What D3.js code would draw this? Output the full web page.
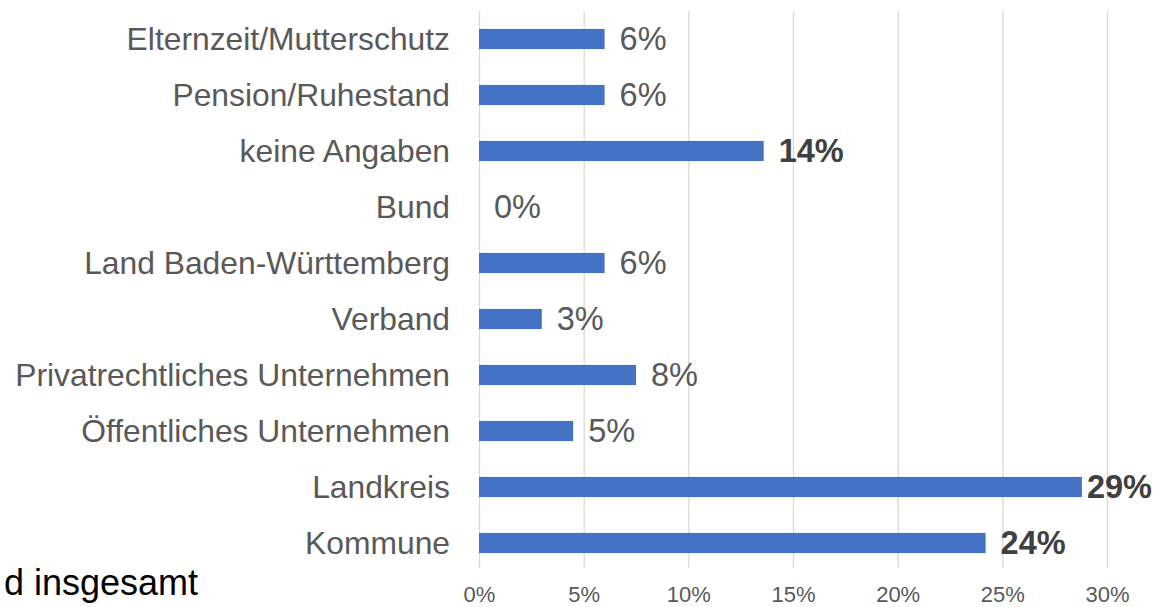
<!DOCTYPE html>
<html>

<head>
    <meta charset="utf-8">
    <style>
        body {
            margin: 0;
            background: #fff;
            font-family: 'Liberation Sans', Arial, sans-serif;
        }

        svg {
            display: block;
        }

        .x .domain {
            display: none;
        }

        .x .tick line {
            stroke: #d9d9d9;
            stroke-width: 1.3px;
        }

        .x .tick text {
            font-size: 22px;
            fill: #595959;
        }

        .cat {
            font-size: 31.8px;
            fill: #595959;
        }
    </style>
</head>

<body>
    <svg width="1156" height="607"></svg>
</body>

<script src="https://d3js.org/d3.v7.min.js"></script>

<script>
    // categories top to bottom
    let categories = [
        "Elternzeit/Mutterschutz",
        "Pension/Ruhestand",
        "keine Angaben",
        "Bund",
        "Land Baden-Württemberg",
        "Verband",
        "Privatrechtliches Unternehmen",
        "Öffentliches Unternehmen",
        "Landkreis",
        "Kommune"
    ]

    // share in percent
    let values = [6.0, 6.0, 13.6, 0, 6.0, 3.0, 7.5, 4.5, 28.8, 24.2]

    // the printed labels (rounded), bold ones flagged
    let valueLabels = ["6%", "6%", "14%", "0%", "6%", "3%", "8%", "5%", "29%", "24%"]
    let boldLabels = [false, false, true, false, false, false, false, false, true, true]

    let xTicks = [0, 5, 10, 15, 20, 25, 30]

    let data = categories.map((c, i) => ({
        cat: c,
        value: values[i],
        label: valueLabels[i],
        bold: boldLabels[i]
    }))

    let svg = d3.select("svg")
    let width = 1156

    let x = d3.scaleLinear()
        .domain([0, 30])
        .range([479, 1107])

    let y = d3.scaleBand()
        .domain(categories)
        .range([11, 571])
        .paddingInner(0.64)
        .paddingOuter(0.32)

    // gridlines + tick labels
    let xAxisSettings = d3.axisBottom(x)
        .tickValues(xTicks)
        .tickSize(557)
        .tickPadding(18)
        .tickFormat(d => d + "%")

    svg.append("g")
        .attr("class", "x axis")
        .attr("transform", "translate(0,11)")
        .call(xAxisSettings)

    // bars
    svg.append("g")
        .selectAll("rect")
        .data(data)
        .join("rect")
        .attr("x", x(0))
        .attr("y", d => y(d.cat))
        .attr("width", d => x(d.value) - x(0))
        .attr("height", y.bandwidth())
        .style("fill", "#4472c4")

    // category labels
    svg.append("g")
        .selectAll("text")
        .data(data)
        .join("text")
        .attr("class", "cat")
        .attr("x", 450)
        .attr("y", d => y(d.cat) + y.bandwidth() / 2)
        .attr("dy", "0.35em")
        .attr("text-anchor", "end")
        .text(d => d.cat)

    // value labels
    let vlab = svg.append("g")
        .selectAll("text")
        .data(data)
        .join("text")
        .attr("y", d => y(d.cat) + y.bandwidth() / 2)
        .attr("dy", "0.35em")
        .style("font-size", "32.5px")
        .style("font-weight", d => d.bold ? "bold" : "normal")
        .style("fill", d => d.bold ? "#404040" : "#595959")
        .text(d => d.label)

    // keep labels inside the picture (the 29% one gets pushed in)
    vlab.attr("x", function (d) {
        let w = this.getComputedTextLength()
        return Math.min(x(d.value) + 15, width - 4 - w)
    })

    // cut-off title text at bottom left
    svg.append("text")
        .attr("x", 198)
        .attr("y", 595)
        .attr("text-anchor", "end")
        .style("font-size", "36px")
        .style("fill", "#000")
        .text("d insgesamt")
</script>

</html>
